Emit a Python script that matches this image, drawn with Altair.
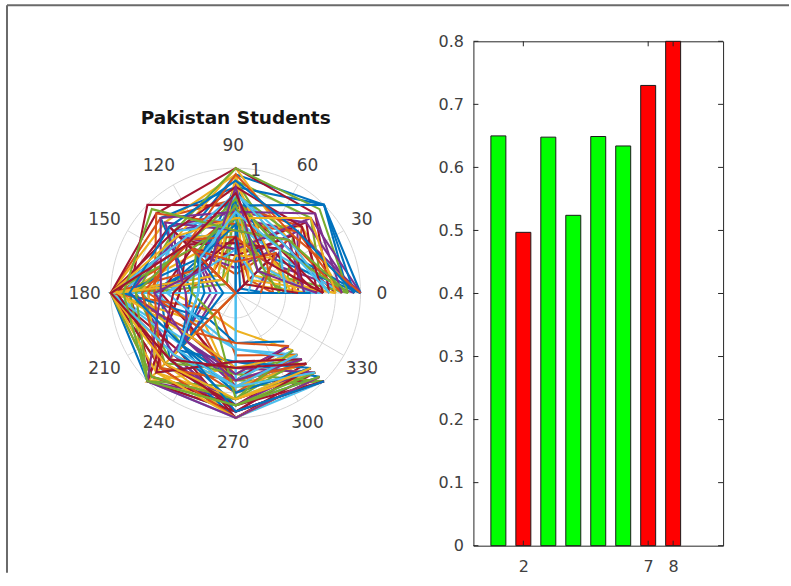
import altair as alt
import pandas as pd
import numpy as np

# ---- Survey responses: one row per student, one normalised score per question (Q1..Q8)
student_scores = [
    [1.00, 1.00, 0.95, 0.60, 1.00, 1.00, 0.95, 1.00],
    [0.60, 0.40, 0.75, 0.85, 1.00, 0.70, 0.80, 0.85],
    [0.85, 0.75, 0.55, 0.45, 0.90, 0.80, 1.00, 0.95],
    [1.00, 0.70, 0.60, 0.70, 0.45, 1.00, 0.85, 0.90],
    [0.70, 0.85, 0.90, 0.30, 0.75, 0.60, 0.70, 1.00],
    [0.45, 0.20, 0.50, 0.60, 1.00, 0.55, 0.65, 0.75],
    [0.80, 0.55, 0.70, 1.00, 0.85, 0.95, 0.90, 0.80],
    [0.90, 1.00, 0.85, 0.40, 0.60, 0.75, 1.00, 0.95],
    [0.55, 0.00, 0.65, 0.50, 0.95, 0.45, 0.75, 0.70],
    [0.75, 0.60, 1.00, 0.65, 0.00, 1.00, 0.60, 0.90],
    [0.95, 0.35, 0.40, 0.55, 0.80, 0.70, 0.95, 1.00],
    [0.40, 0.65, 0.80, 0.20, 1.00, 0.85, 0.70, 0.65],
    [0.85, 0.45, 0.60, 0.75, 0.55, 0.00, 0.85, 0.85],
    [0.65, 0.80, 0.35, 0.60, 1.00, 0.65, 1.00, 0.90],
    [1.00, 0.50, 0.75, 0.35, 0.70, 0.90, 0.55, 0.95],
    [0.30, 0.15, 0.45, 0.25, 0.40, 0.50, 0.65, 0.60],
    [0.65, 0.30, 0.95, 0.80, 1.00, 0.35, 0.80, 0.75],
    [0.50, 0.70, 0.25, 0.45, 0.20, 0.75, 0.90, 0.85],
    [0.90, 0.25, 0.70, 0.15, 0.85, 1.00, 0.75, 1.00],
    [0.20, 0.45, 0.55, 0.70, 0.65, 0.40, 0.45, 0.70],
    [0.75, 0.90, 1.00, 0.90, 1.00, 0.85, 1.00, 0.95],
    [0.00, 0.35, 0.60, 0.40, 0.30, 0.60, 0.70, 0.80],
    [0.85, 0.60, 0.15, 0.55, 1.00, 0.95, 0.85, 0.90],
    [0.60, 0.10, 0.80, 0.35, 0.50, 0.25, 0.30, 0.65],
    [0.95, 0.80, 0.65, 0.75, 0.00, 0.70, 0.95, 0.85],
    [0.35, 0.50, 0.90, 0.10, 0.75, 0.80, 0.60, 0.75],
    [0.70, 0.00, 0.45, 0.65, 0.90, 1.00, 1.00, 1.00],
    [0.55, 0.65, 0.30, 0.50, 0.60, 0.45, 0.70, 0.60],
    [1.00, 0.40, 0.85, 0.85, 0.35, 0.65, 0.90, 0.95],
    [0.45, 0.75, 0.70, 0.30, 1.00, 0.20, 0.50, 0.70],
    [0.80, 0.20, 0.50, 0.60, 0.70, 0.90, 0.85, 0.90],
    [0.15, 0.55, 0.20, 0.45, 0.15, 0.55, 0.75, 0.80],
    [0.90, 0.95, 1.00, 0.70, 0.80, 0.75, 0.65, 1.00],
    [0.60, 0.30, 0.65, 0.00, 1.00, 0.60, 0.80, 0.70],
    [0.70, 0.50, 0.40, 0.55, 0.45, 1.00, 0.95, 0.85],
    [0.25, 0.05, 0.75, 0.40, 0.90, 0.30, 0.40, 0.55],
    [0.85, 0.70, 0.55, 0.90, 0.65, 0.85, 1.00, 0.95],
    [0.50, 0.40, 0.90, 0.25, 0.00, 0.70, 0.75, 0.80],
    [1.00, 0.85, 0.35, 0.65, 0.85, 0.50, 0.60, 0.90],
    [0.40, 0.25, 0.60, 0.50, 1.00, 0.95, 0.85, 0.75],
    [0.75, 0.60, 0.80, 0.35, 0.55, 0.00, 0.70, 0.65],
    [0.65, 0.45, 0.00, 0.75, 0.95, 0.80, 0.90, 1.00],
    [0.95, 1.00, 0.70, 0.45, 0.25, 0.65, 0.55, 0.85],
    [0.30, 0.35, 0.45, 0.60, 0.70, 0.40, 0.80, 0.70],
    [0.80, 0.15, 0.95, 0.20, 1.00, 0.90, 1.00, 0.95],
    [0.55, 0.60, 0.50, 0.80, 0.40, 0.55, 0.65, 0.60],
    [0.90, 0.50, 0.75, 0.55, 0.80, 1.00, 0.90, 0.90],
    [0.10, 0.20, 0.35, 0.30, 0.55, 0.35, 0.45, 0.75],
    [0.70, 0.75, 0.85, 0.70, 1.00, 0.75, 0.95, 1.00],
    [0.60, 0.00, 0.55, 0.40, 0.10, 0.60, 0.80, 0.85],
    [1.00, 0.65, 0.95, 0.55, 0.75, 0.85, 0.70, 0.80],
    [0.45, 0.40, 0.30, 0.15, 0.95, 0.50, 0.60, 0.70],
    [0.85, 0.90, 0.65, 0.85, 0.60, 1.00, 1.00, 0.95],
    [0.35, 0.30, 0.70, 0.45, 0.35, 0.25, 0.85, 0.65],
    [0.75, 0.55, 0.80, 0.60, 1.00, 0.70, 0.75, 0.90],
    [0.50, 0.10, 0.45, 0.35, 0.50, 0.90, 0.55, 0.75],
    [0.95, 0.70, 0.90, 0.75, 0.85, 0.60, 0.95, 1.00],
    [0.20, 0.45, 0.25, 0.50, 0.00, 0.45, 0.40, 0.60],
    [0.80, 0.85, 0.60, 0.65, 1.00, 0.80, 0.85, 0.85],
    [0.65, 0.25, 0.85, 0.30, 0.65, 0.55, 0.70, 0.75],
    [0.90, 0.60, 0.50, 0.95, 0.90, 1.00, 0.90, 0.95],
    [0.40, 0.50, 0.65, 0.40, 0.30, 0.65, 0.75, 0.70],
    [0.70, 0.35, 0.80, 0.55, 1.00, 0.75, 0.60, 0.80],
]
question_angles = [0, 45, 90, 135, 180, 225, 270, 315]

# Polar grid
ring_radii = [0.2, 0.4, 0.6, 0.8, 1.0]
spoke_angles = [0, 30, 60, 90, 120, 150]
angle_ticks = [0, 30, 60, 90, 120, 150, 180, 210, 240, 270, 300, 330]

# Bar panel
bar_positions = [1, 2, 3, 4, 5, 6, 7, 8]
bar_values = [0.650, 0.497, 0.648, 0.524, 0.649, 0.634, 0.730, 0.800]
bar_colors = ["#00FF00", "#FF0000", "#00FF00", "#00FF00",
              "#00FF00", "#00FF00", "#FF0000", "#FF0000"]
bar_xticks = [2, 7, 8]
bar_yticks = [0, 0.1, 0.2, 0.3, 0.4, 0.5, 0.6, 0.7, 0.8]

line_colors = ["#0072BD", "#D95319", "#EDB120", "#7E2F8E",
               "#77AC30", "#4DBEEE", "#A2142F"]

FONT = "DejaVu Sans"
LABEL = "#404040"
GRID = "#d6d6d6"

# ---- polar panel geometry (pixels)
PW, PH = 447, 505          # panel size
CX, CY = 229, 252          # pole position inside the panel
UNIT = 125                 # pixels per unit radius
xs = alt.Scale(domain=[-CX / UNIT, (PW - CX) / UNIT], nice=False, zero=False, padding=0)
ys = alt.Scale(domain=[-(PH - CY) / UNIT, CY / UNIT], nice=False, zero=False, padding=0)
X = lambda f: alt.X(f, type="quantitative", scale=xs, axis=None)
Y = lambda f: alt.Y(f, type="quantitative", scale=ys, axis=None)

ids = [f"s{i + 1:02d}" for i in range(len(student_scores))]
resp = pd.DataFrame(
    [(sid, q, question_angles[q], row[q])
     for sid, row in zip(ids, student_scores) for q in range(len(question_angles))],
    columns=["student", "q", "angle", "r"],
)

ring_df = pd.DataFrame(
    [(r, t) for r in ring_radii for t in range(0, 361, 3)], columns=["ring", "t"]
)
spoke_df = pd.DataFrame({"angle": spoke_angles})
tick_df = pd.DataFrame({"angle": angle_ticks, "label": [str(a) for a in angle_ticks]})
rlabel_df = pd.DataFrame({"r": [0.99], "angle": [80.7], "label": ["1"]})
one = pd.DataFrame({"k": [0]})

rings = alt.Chart(ring_df).mark_line(stroke=GRID, strokeWidth=1).transform_calculate(
    px="datum.ring * cos(datum.t * PI / 180)", py="datum.ring * sin(datum.t * PI / 180)"
).encode(x=X("px"), y=Y("py"), detail="ring:N", order="t:Q")

spokes = alt.Chart(spoke_df).mark_rule(stroke=GRID, strokeWidth=1).transform_calculate(
    x1="cos(datum.angle * PI / 180)", y1="sin(datum.angle * PI / 180)",
    x0="-cos(datum.angle * PI / 180)", y0="-sin(datum.angle * PI / 180)",
).encode(x=X("x0"), y=Y("y0"), x2="x1:Q", y2="y1:Q")

# angle labels sit on a ring slightly outside the unit circle
angle_text = alt.Chart(tick_df).mark_text(
    font=FONT, fontSize=17, color=LABEL, align="center", baseline="middle"
).transform_calculate(
    px="1.19 * cos(datum.angle * PI / 180) - 0.02",
    py="1.19 * sin(datum.angle * PI / 180) - 0.012",
).encode(x=X("px"), y=Y("py"), text="label:N")

r_text = alt.Chart(rlabel_df).mark_text(
    font=FONT, fontSize=17, color=LABEL, align="center", baseline="middle"
).transform_calculate(
    px="datum.r * cos(datum.angle * PI / 180)", py="datum.r * sin(datum.angle * PI / 180)"
).encode(x=X("px"), y=Y("py"), text="label:N")

lines = alt.Chart(resp).mark_line(strokeWidth=2.1).transform_calculate(
    px="datum.r * cos(datum.angle * PI / 180)", py="datum.r * sin(datum.angle * PI / 180)"
).encode(
    x=X("px"), y=Y("py"), order="q:Q",
    color=alt.Color("student:N", scale=alt.Scale(domain=ids, range=line_colors), legend=None),
)

title = alt.Chart(one).mark_text(
    text="Pakistan Students", font=FONT, fontSize=18.5, fontWeight="bold",
    color="#141414", align="center", baseline="alphabetic"
).encode(x=alt.value(CX), y=alt.value(83))

# figure frame (top and left edges)
frame_top = alt.Chart(one).mark_rule(stroke="#6a6a6a", strokeWidth=2).encode(
    x=alt.value(0), x2=alt.value(783), y=alt.value(-36))
frame_left = alt.Chart(one).mark_rule(stroke="#6a6a6a", strokeWidth=2).encode(
    x=alt.value(0), y=alt.value(-36), y2=alt.value(532))

polar = alt.layer(
    rings, spokes, r_text, lines, angle_text, title, frame_top, frame_left
).properties(width=PW, height=PH)

# ---- bar panel
BW = 250
bx = alt.Scale(domain=[0, 10], nice=False, zero=False, padding=0)
by = alt.Scale(domain=[0, 0.8], nice=False, padding=0)
bar_df = pd.DataFrame({"pos": bar_positions, "val": bar_values, "fill": bar_colors})
xt_df = pd.DataFrame({"pos": bar_xticks})
yt_df = pd.DataFrame({"val": bar_yticks})

bars = alt.Chart(bar_df).mark_bar(stroke="#1a1a1a", strokeWidth=1).transform_calculate(
    x0="datum.pos - 0.3", x1="datum.pos + 0.3"
).encode(
    x=alt.X("x0:Q", scale=bx, axis=alt.Axis(
        orient="bottom", values=bar_xticks, format="d", ticks=False, domain=False,
        grid=False, title=None, labelPadding=13, labelFontSize=16)),
    x2="x1:Q",
    y=alt.Y("val:Q", scale=by, axis=alt.Axis(
        orient="left", values=bar_yticks, format=".1~f", ticks=False, domain=False,
        grid=False, title=None, labelPadding=10, labelFontSize=16)),
    y2=alt.datum(0),
    color=alt.Color("fill:N", scale=None),
)

TL = 5
tick_style = dict(stroke="#262626", strokeWidth=1)
xt_bottom = alt.Chart(xt_df).mark_rule(**tick_style).encode(
    x=alt.X("pos:Q", scale=bx), y=alt.value(PH), y2=alt.value(PH - TL))
xt_top = alt.Chart(xt_df).mark_rule(**tick_style).encode(
    x=alt.X("pos:Q", scale=bx), y=alt.value(0), y2=alt.value(TL))
yt_left = alt.Chart(yt_df).mark_rule(**tick_style).encode(
    y=alt.Y("val:Q", scale=by), x=alt.value(0), x2=alt.value(TL))
yt_right = alt.Chart(yt_df).mark_rule(**tick_style).encode(
    y=alt.Y("val:Q", scale=by), x=alt.value(BW), x2=alt.value(BW - TL))

bar_panel = alt.layer(bars, xt_bottom, xt_top, yt_left, yt_right).properties(
    width=BW, height=PH, view=alt.ViewBackground(stroke="#262626", strokeWidth=1)
)

chart = alt.hconcat(polar, bar_panel, spacing=20, bounds="flush").properties(
    padding={"left": 5, "top": 3, "right": 0, "bottom": 0}
).configure_view(stroke="transparent").configure_axis(
    labelFont=FONT, labelColor=LABEL
)

chart.save("out.html", embed_options={"renderer": "svg", "actions": False})
